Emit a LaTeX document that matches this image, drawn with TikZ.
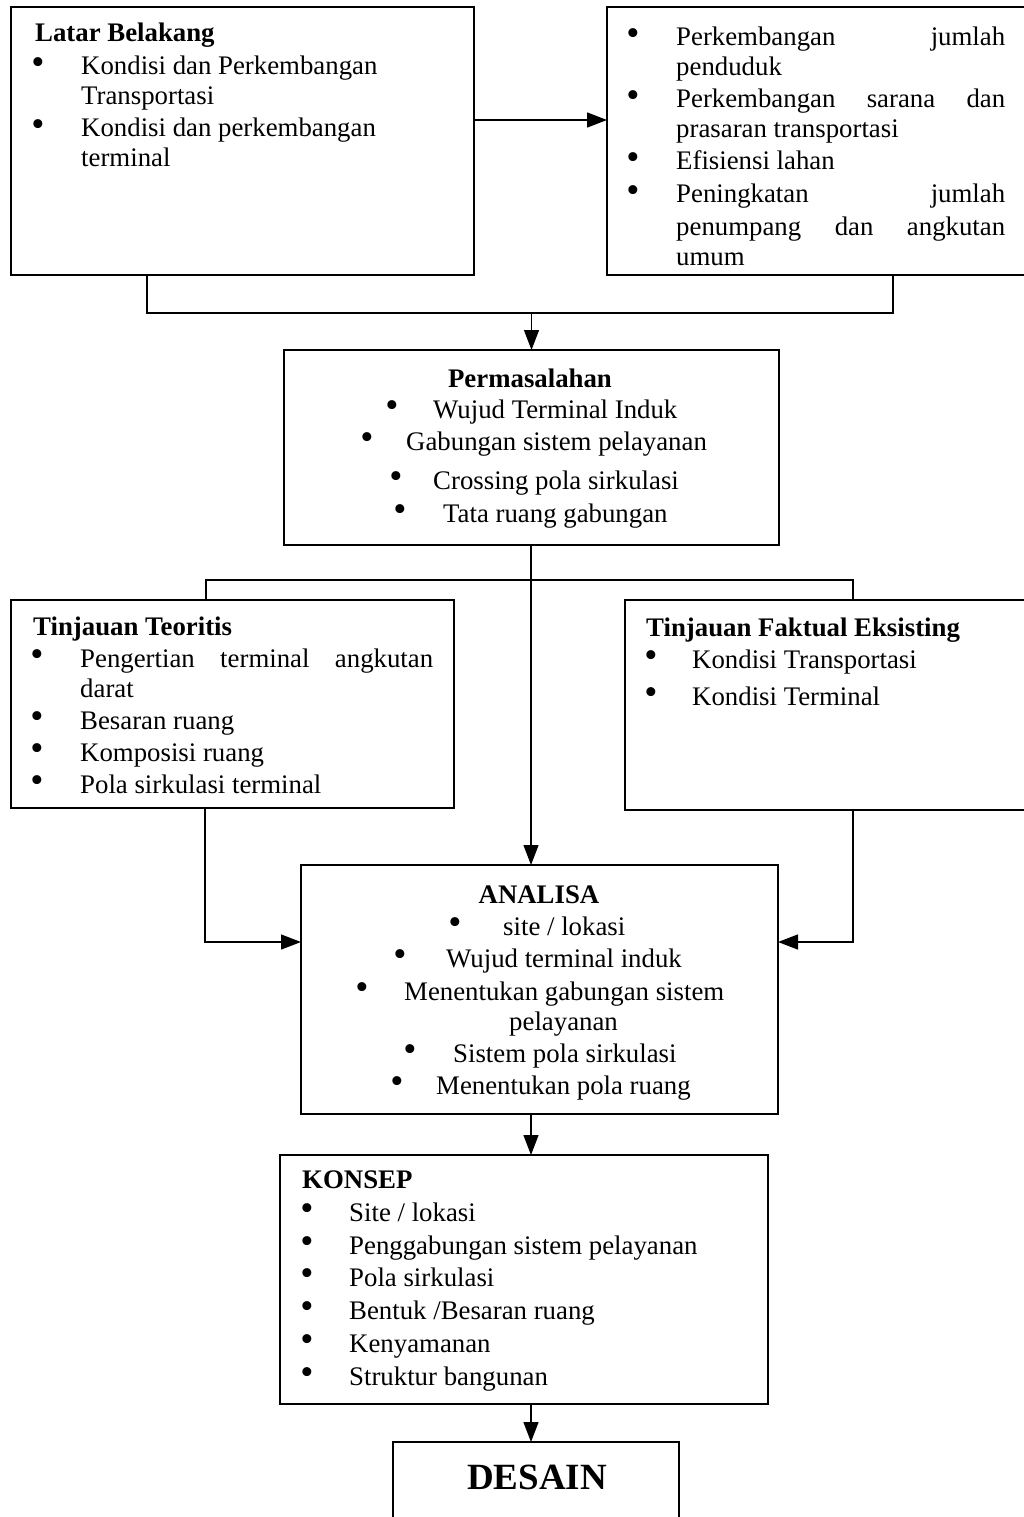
\documentclass[tikz,border=0pt]{standalone}
\usepackage{fontspec}
\usepackage{graphicx}
\setmainfont{Liberation Serif}
\usetikzlibrary{arrows.meta}
\newcommand{\bigbul}{\scalebox{1.4}{\textbullet}}
\tikzset{
  box/.style={draw, line width=1.3pt, inner sep=0pt, outer sep=0pt, rectangle},
  conn/.style={line width=1.3pt},
  arr/.style={line width=1.3pt, -{Triangle[length=20pt,width=15pt]}},
  txt/.style={inner sep=0pt, anchor=base west, font=\fontsize{26.8}{31}\selectfont},
  hd/.style={inner sep=0pt, anchor=base west, font=\fontsize{26.8}{31}\selectfont\bfseries},
  hdc/.style={inner sep=0pt, anchor=base, font=\fontsize{26.8}{31}\selectfont\bfseries},
  bul/.style={inner sep=0pt, anchor=center, yshift=9pt, font=\fontsize{26.8}{31}\selectfont},
}
\begin{document}
\begin{tikzpicture}[x=1pt,y=-1pt]
\useasboundingbox (0,0) rectangle (1023,1517);
% boxes
\node[box, minimum width=463pt, minimum height=268pt] (lb) at (242.5,141) {};
\node[box, minimum width=421pt, minimum height=268pt] (b2) at (817.5,141) {};
\node[box, minimum width=495pt, minimum height=195pt] (perm) at (531.5,447.5) {};
\node[box, minimum width=443pt, minimum height=208pt] (tt) at (232.5,704) {};
\node[box, minimum width=406pt, minimum height=210pt] (tf) at (828,705) {};
\node[box, minimum width=477pt, minimum height=249pt] (an) at (539.5,989.5) {};
\node[box, minimum width=488pt, minimum height=249pt] (ko) at (524,1279.5) {};
\node[box, minimum width=286pt, minimum height=100pt] (de) at (536,1492) {};
% coordinates
\coordinate (j1) at (531.5,313);
\coordinate (mL) at (147,313);
\coordinate (mR) at (893,313);
\coordinate (sL) at (206,580);
\coordinate (sR) at (853,580);
\coordinate (bL) at (205,942);
\coordinate (bR) at (853,942);
\coordinate (cx) at (531,0);
% connectors
\draw[arr] ([yshift=21pt]lb.east) -- ([yshift=21pt]b2.west);
\draw[conn] (lb.south -| mL) -- (mL) -- (mR) -- (b2.south -| mR);
\draw[arr] (j1) -- (perm.north);
\draw[conn] (tt.north -| sL) -- (sL) -- (sR) -- (tf.north -| sR);
\draw[arr] (perm.south -| cx) -- (an.north -| cx);
\draw[arr] (tt.south -| bL) -- (bL) -- (an.west |- bL);
\draw[arr] (tf.south -| bR) -- (bR) -- (an.east |- bR);
\draw[arr] (an.south -| cx) -- (ko.north -| cx);
\draw[arr] (ko.south -| cx) -- (de.north -| cx);
% Latar Belakang
\node[hd] (lbh) at (35,42) {Latar Belakang};
\node[bul] (lbb1) at (38,75) {\bigbul};
\node[txt] (lbt1) at (81,75) {Kondisi dan Perkembangan};
\node[txt] (lbt2) at (81,105) {Transportasi};
\node[bul] (lbb2) at (38,137) {\bigbul};
\node[txt] (lbt3) at (81,137) {Kondisi dan perkembangan};
\node[txt] (lbt4) at (81,167) {terminal};
% box 2
\node[bul] (b2b1) at (633,46) {\bigbul};
\node[txt] (b2t1) at (676,46) {\makebox[329pt][s]{Perkembangan jumlah}};
\node[txt] (b2t2) at (676,76) {penduduk};
\node[bul] (b2b2) at (633,108) {\bigbul};
\node[txt] (b2t3) at (676,108) {\makebox[329pt][s]{Perkembangan sarana dan}};
\node[txt] (b2t4) at (676,138) {prasaran transportasi};
\node[bul] (b2b3) at (633,170) {\bigbul};
\node[txt] (b2t5) at (676,170) {Efisiensi lahan};
\node[bul] (b2b4) at (633,203) {\bigbul};
\node[txt] (b2t6) at (676,203) {\makebox[329pt][s]{Peningkatan jumlah}};
\node[txt] (b2t7) at (676,235) {\makebox[329pt][s]{penumpang dan angkutan}};
\node[txt] (b2t8) at (676,265) {umum};
% Permasalahan
\node[hdc] (ph) at (530,387) {Permasalahan};
\node[bul] (pb1) at (392,418) {\bigbul};
\node[txt] (pt1) at (433,418) {Wujud Terminal Induk};
\node[bul] (pb2) at (367,450) {\bigbul};
\node[txt] (pt2) at (406,450) {Gabungan sistem pelayanan};
\node[bul] (pb3) at (396,489) {\bigbul};
\node[txt] (pt3) at (433,489) {Crossing pola sirkulasi};
\node[bul] (pb4) at (400,522) {\bigbul};
\node[txt] (pt4) at (443,522) {Tata ruang gabungan};
% Tinjauan Teoritis
\node[hd] (tth) at (33,635) {Tinjauan Teoritis};
\node[bul] (ttb1) at (37,667) {\bigbul};
\node[txt] (ttt1) at (80,667) {\makebox[353pt][s]{Pengertian terminal angkutan}};
\node[txt] (ttt2) at (80,697) {darat};
\node[bul] (ttb2) at (37,729) {\bigbul};
\node[txt] (ttt3) at (80,729) {Besaran ruang};
\node[bul] (ttb3) at (37,761) {\bigbul};
\node[txt] (ttt4) at (80,761) {Komposisi ruang};
\node[bul] (ttb4) at (37,793) {\bigbul};
\node[txt] (ttt5) at (80,793) {Pola sirkulasi terminal};
% Tinjauan Faktual
\node[hd] (tfh) at (646,636) {Tinjauan Faktual Eksisting};
\node[bul] (tfb1) at (651,668) {\bigbul};
\node[txt] (tft1) at (692,668) {Kondisi Transportasi};
\node[bul] (tfb2) at (651,705) {\bigbul};
\node[txt] (tft2) at (692,705) {Kondisi Terminal};
% ANALISA
\node[hdc] (ah) at (539,903) {ANALISA};
\node[bul] (ab1) at (455,935) {\bigbul};
\node[txt] (at1) at (503,935) {site / lokasi};
\node[bul] (ab2) at (400,967) {\bigbul};
\node[txt] (at2) at (446,967) {Wujud terminal induk};
\node[bul] (ab3) at (362,1000) {\bigbul};
\node[txt] (at3) at (404,1000) {Menentukan gabungan sistem};
\node[txt] (at4) at (509,1030) {pelayanan};
\node[bul] (ab4) at (410,1062) {\bigbul};
\node[txt] (at5) at (453,1062) {Sistem pola sirkulasi};
\node[bul] (ab5) at (397,1094) {\bigbul};
\node[txt] (at6) at (436,1094) {Menentukan pola ruang};
% KONSEP
\node[hd] (kh) at (302,1188) {KONSEP};
\node[bul] (kb1) at (307,1221) {\bigbul};
\node[txt] (kt1) at (349,1221) {Site / lokasi};
\node[bul] (kb2) at (307,1254) {\bigbul};
\node[txt] (kt2) at (349,1254) {Penggabungan sistem pelayanan};
\node[bul] (kb3) at (307,1286) {\bigbul};
\node[txt] (kt3) at (349,1286) {Pola sirkulasi};
\node[bul] (kb4) at (307,1319) {\bigbul};
\node[txt] (kt4) at (349,1319) {Bentuk /Besaran ruang};
\node[bul] (kb5) at (307,1352) {\bigbul};
\node[txt] (kt5) at (349,1352) {Kenyamanan};
\node[bul] (kb6) at (307,1385) {\bigbul};
\node[txt] (kt6) at (349,1385) {Struktur bangunan};
% DESAIN
\node[inner sep=0pt, anchor=base, font=\fontsize{37}{40}\selectfont\bfseries] (dh) at (537,1489) {DESAIN};
\end{tikzpicture}
\end{document}
